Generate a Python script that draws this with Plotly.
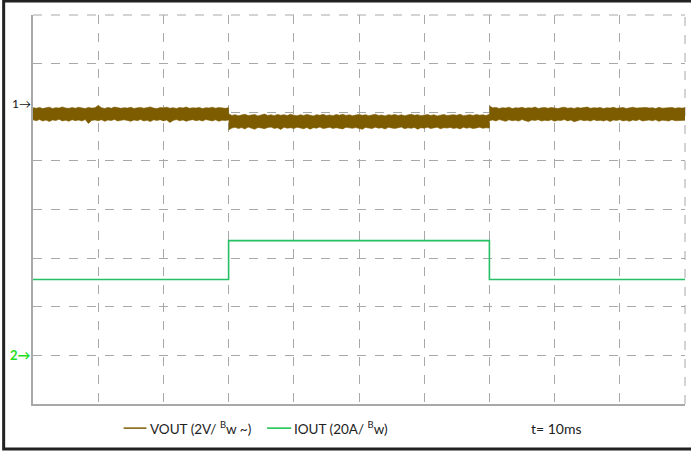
import plotly.graph_objects as go

# Scope capture: load step 30 ms -> 70 ms, 10 ms/div, 10 x 8 divisions
t_range = [0, 100]          # ms
div_y = [-4, 4]             # vertical divisions

# Channel 1: VOUT, 2 V/div, AC coupled, reference marker position in divisions
ch1_v_per_div = 2.0
ch1_ref_div = 2.17
# Channel 2: IOUT, 20 A/div
ch2_a_per_div = 20.0
ch2_ref_div = -2.99

# VOUT noise envelope (mV), sampled every 0.5 ms in each load segment
t_seg_a = [i * 0.5 for i in range(0, 61)]          # 0 .. 30 ms
vout_hi_a = [-150, -175, -140, -190, -160, -130, -185, -150, -170, -120,
             -165, -180, -145, -175, -135, -160, -190, -140, -170, -155,
             -60, -150, -185, -140, -175, -125, -165, -180, -150, -170,
             -135, -185, -160, -140, -175, -150, -120, -170, -190, -145,
             -160, -130, -175, -150, -185, -140, -165, -125, -180, -155,
             -170, -140, -190, -150, -165, -130, -175, -145, -160, -180, -150]
vout_lo_a = [-650, -690, -640, -700, -660, -720, -655, -680, -630, -695,
             -665, -710, -645, -685, -660, -700, -640, -800, -675, -655,
             -690, -645, -715, -660, -680, -635, -700, -670, -650, -690,
             -710, -655, -685, -640, -700, -665, -725, -650, -680, -645,
             -695, -660, -760, -675, -640, -690, -655, -710, -670, -645,
             -685, -660, -700, -640, -675, -695, -650, -710, -665, -680, -660]

t_seg_b = [30 + i * 0.5 for i in range(0, 81)]     # 30 .. 70 ms
vout_hi_b = [-400, -470, -440, -485, -450, -425, -475, -455, -435, -490,
             -450, -415, -470, -445, -480, -430, -465, -440, -475, -420,
             -460, -485, -445, -470, -430, -455, -490, -440, -465, -425,
             -475, -450, -480, -435, -460, -420, -470, -445, -485, -455,
             -430, -465, -440, -480, -450, -425, -470, -455, -490, -440,
             -460, -430, -475, -445, -485, -450, -420, -465, -440, -480,
             -455, -435, -470, -445, -490, -460, -430, -475, -450, -440,
             -465, -425, -480, -455, -440, -470, -435, -460, -445, -475, -420]
vout_lo_b = [-1070, -990, -960, -1010, -970, -1030, -950, -995, -1040, -965,
             -985, -1015, -970, -950, -1005, -980, -1045, -960, -995, -975,
             -1010, -955, -985, -1020, -965, -1035, -975, -995, -950, -1010,
             -985, -960, -1005, -975, -995, -1025, -960, -985, -1000, -970,
             -990, -1040, -965, -980, -1010, -955, -995, -975, -1030, -960,
             -985, -1005, -970, -950, -1015, -980, -1000, -965, -1035, -975,
             -995, -960, -1010, -985, -955, -1020, -975, -990, -965, -1005,
             -980, -1025, -960, -995, -970, -1010, -985, -955, -1000, -975, -990]

t_seg_c = [70 + i * 0.5 for i in range(0, 61)]     # 70 .. 100 ms
vout_hi_c = [-80, -160, -140, -185, -150, -170, -130, -190, -155, -165,
             -135, -180, -150, -170, -125, -185, -160, -145, -175, -140,
             -165, -190, -150, -130, -175, -155, -185, -140, -170, -160,
             -125, -180, -150, -165, -140, -190, -155, -170, -135, -175,
             -160, -145, -185, -150, -130, -170, -160, -180, -140, -165,
             -150, -190, -135, -175, -155, -165, -140, -180, -150, -170, -160]
vout_lo_c = [-690, -655, -700, -640, -680, -715, -650, -690, -665, -705,
             -640, -685, -725, -660, -675, -645, -700, -670, -690, -650,
             -710, -665, -680, -640, -695, -660, -730, -675, -650, -690,
             -665, -705, -645, -685, -670, -700, -655, -720, -660, -680,
             -645, -695, -670, -710, -655, -685, -640, -700, -675, -660,
             -690, -650, -715, -665, -680, -700, -645, -690, -670, -685, -670]

# IOUT load step (A)
iout_t = [0, 30, 70, 100]
iout_a = [31, 47, 31, 31]

VOUT_COLOR = "#7d5c00"
IOUT_COLOR = "#25c064"
IOUT_LEGEND_COLOR = "#12c24a"
GRID = "#a8a8a8"
FONT = "Lato"


def mv_to_div(mv):
    return ch1_ref_div + (mv / 1000.0) / ch1_v_per_div


def a_to_div(a):
    return ch2_ref_div + a / ch2_a_per_div


# closed polygons (one per segment) for the noise band
band_x, band_y = [], []
for ts, hi, lo in [(t_seg_a, vout_hi_a, vout_lo_a),
                   (t_seg_b, vout_hi_b, vout_lo_b),
                   (t_seg_c, vout_hi_c, vout_lo_c)]:
    band_x += ts + ts[::-1] + [None]
    band_y += [mv_to_div(v) for v in hi] + [mv_to_div(v) for v in lo[::-1]] + [None]

fig = go.Figure()
fig.add_trace(go.Scatter(
    x=band_x, y=band_y, mode="lines", fill="toself",
    fillcolor=VOUT_COLOR, line=dict(color=VOUT_COLOR, width=0.6),
    hoverinfo="skip", showlegend=False))
fig.add_trace(go.Scatter(
    x=iout_t, y=[a_to_div(a) for a in iout_a], mode="lines",
    line=dict(color=IOUT_COLOR, width=1.6, shape="hv"),
    hoverinfo="skip", showlegend=False))

fig.update_xaxes(range=t_range, dtick=10, tick0=0, showticklabels=False, ticks="",
                 showgrid=True, gridcolor=GRID, griddash="dash", gridwidth=1,
                 showline=True, linecolor=GRID, linewidth=1.5, zeroline=False, mirror=False)
fig.update_yaxes(range=div_y, dtick=1, tick0=0, showticklabels=False, ticks="",
                 showgrid=True, gridcolor=GRID, griddash="dash", gridwidth=1,
                 showline=True, linecolor=GRID, linewidth=1.5, zeroline=False, mirror=False)

# top and right borders of the graticule (dashed)
fig.add_shape(type="line", xref="x domain", yref="y domain", x0=0, x1=1, y0=1, y1=1,
              line=dict(color=GRID, width=1, dash="dash"), layer="below")
fig.add_shape(type="line", xref="x domain", yref="y domain", x0=1, x1=1, y0=0, y1=1,
              line=dict(color=GRID, width=1, dash="dash"), layer="below")

# outer frame
fig.add_shape(type="rect", xref="x domain", yref="y domain",
              x0=-0.045, x1=1.02, y0=-0.116, y1=1.036,
              line=dict(color="#222222", width=3), layer="above")

# channel reference markers
fig.add_annotation(x=0, xref="x domain", y=ch1_ref_div, yref="y", text="1→",
                   xanchor="right", yanchor="middle", showarrow=False,
                   font=dict(family=FONT, size=12, color="#111111"))
fig.add_annotation(x=0, xref="x domain", y=ch2_ref_div, yref="y", text="<b>2→</b>",
                   xanchor="right", yanchor="middle", showarrow=False,
                   font=dict(family=FONT, size=13, color="#22dd22"))

# legend row
leg_y = -0.062
fig.add_shape(type="line", xref="x domain", yref="y domain", x0=0.139, x1=0.174,
              y0=leg_y, y1=leg_y, line=dict(color=VOUT_COLOR, width=1.5))
fig.add_annotation(x=0.176, xref="x domain", y=leg_y, yref="y domain",
                   text="VOUT (2V/ <sup>B</sup>w ~)", xanchor="left", yanchor="middle",
                   showarrow=False, font=dict(family=FONT, size=13.5, color="#222222"))
fig.add_shape(type="line", xref="x domain", yref="y domain", x0=0.359, x1=0.396,
              y0=leg_y, y1=leg_y, line=dict(color=IOUT_LEGEND_COLOR, width=1.5))
fig.add_annotation(x=0.397, xref="x domain", y=leg_y, yref="y domain",
                   text="IOUT (20A/ <sup>B</sup>w)", xanchor="left", yanchor="middle",
                   showarrow=False, font=dict(family=FONT, size=13.5, color="#222222"))
fig.add_annotation(x=0.761, xref="x domain", y=leg_y, yref="y domain",
                   text="t= 10ms", xanchor="left", yanchor="middle",
                   showarrow=False, font=dict(family=FONT, size=14, color="#222222"))

fig.update_layout(
    width=691, height=453,
    margin=dict(l=33, r=6, t=15, b=49),
    paper_bgcolor="white", plot_bgcolor="white",
    showlegend=False,
)

fig.write_html("out.html")
